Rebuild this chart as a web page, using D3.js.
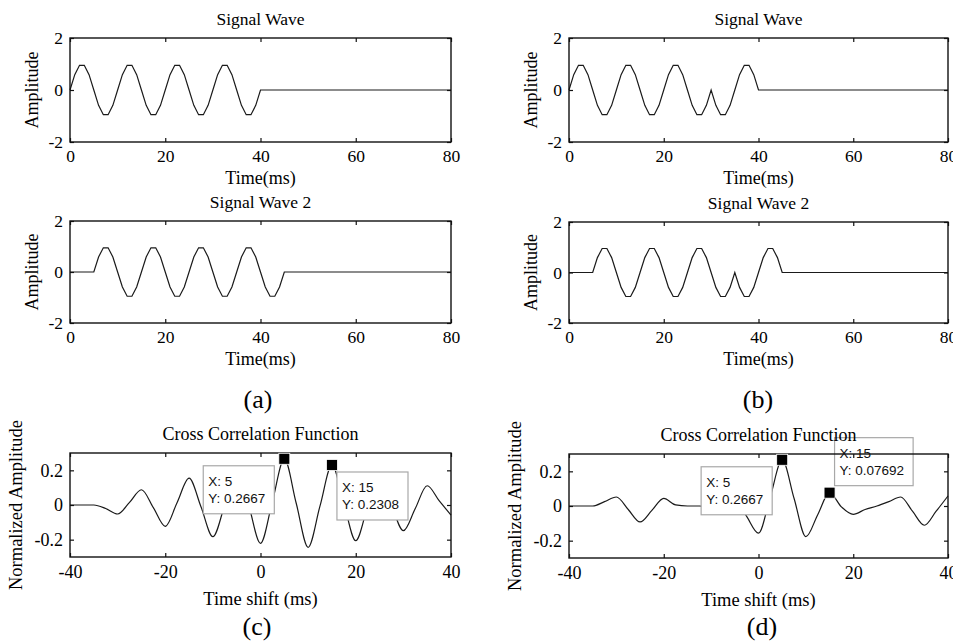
<!DOCTYPE html>
<meta charset="utf-8">
<style>

body {
  margin: 0;
  background: #fff;
}

svg {
  display: block;
}

.serif {
  font-family: "Liberation Serif", "Times New Roman", serif;
}

.tip text {
  font-family: "Liberation Sans", Arial, sans-serif;
  font-size: 13.5px;
}

</style>
<body>
<script src="https://cdn.jsdelivr.net/npm/d3@7"></script>
<script>

// sample times (ms) of the signal bursts, the rest of each trace is flat zero
var sampleMs = [0, 1, 2, 3, 4, 5, 6, 7, 8, 9, 10, 11, 12, 13, 14, 15, 16, 17, 18, 19,
    20, 21, 22, 23, 24, 25, 26, 27, 28, 29, 30, 31, 32, 33, 34, 35, 36, 37, 38, 39,
    40, 41, 42, 43, 44, 45];
var traceEndMs = 80;

// (a) signal wave / signal wave 2
var sigA1 = [0, 0.59, 0.95, 0.95, 0.59, 0, -0.59, -0.95, -0.95, -0.59,
    0, 0.59, 0.95, 0.95, 0.59, 0, -0.59, -0.95, -0.95, -0.59,
    0, 0.59, 0.95, 0.95, 0.59, 0, -0.59, -0.95, -0.95, -0.59,
    0, 0.59, 0.95, 0.95, 0.59, 0, -0.59, -0.95, -0.95, -0.59,
    0, 0, 0, 0, 0, 0];
var sigA2 = [0, 0, 0, 0, 0,
    0, 0.59, 0.95, 0.95, 0.59, 0, -0.59, -0.95, -0.95, -0.59,
    0, 0.59, 0.95, 0.95, 0.59, 0, -0.59, -0.95, -0.95, -0.59,
    0, 0.59, 0.95, 0.95, 0.59, 0, -0.59, -0.95, -0.95, -0.59,
    0, 0.59, 0.95, 0.95, 0.59, 0, -0.59, -0.95, -0.95, -0.59,
    0];

// (b) same bursts with the last cycle phase-flipped
var sigB1 = [0, 0.59, 0.95, 0.95, 0.59, 0, -0.59, -0.95, -0.95, -0.59,
    0, 0.59, 0.95, 0.95, 0.59, 0, -0.59, -0.95, -0.95, -0.59,
    0, 0.59, 0.95, 0.95, 0.59, 0, -0.59, -0.95, -0.95, -0.59,
    0, -0.59, -0.95, -0.95, -0.59, 0, 0.59, 0.95, 0.95, 0.59,
    0, 0, 0, 0, 0, 0];
var sigB2 = [0, 0, 0, 0, 0,
    0, 0.59, 0.95, 0.95, 0.59, 0, -0.59, -0.95, -0.95, -0.59,
    0, 0.59, 0.95, 0.95, 0.59, 0, -0.59, -0.95, -0.95, -0.59,
    0, 0.59, 0.95, 0.95, 0.59, 0, -0.59, -0.95, -0.95, -0.59,
    0, -0.59, -0.95, -0.95, -0.59, 0, 0.59, 0.95, 0.95, 0.59,
    0];

// cross correlation, lag in ms
var lagMs = [-40, -37.5, -35, -32.5, -30, -27.5, -25, -22.5, -20, -17.5, -15, -12.5,
    -10, -7.5, -5, -2.5, 0, 2.5, 5, 7.5, 10, 12.5, 15, 17.5, 20, 22.5, 25, 27.5,
    30, 32.5, 35, 37.5, 40];
var corrC = [0, 0, 0, -0.02, -0.052, 0.015, 0.088, -0.015, -0.123, 0.015, 0.155, -0.01,
    -0.183, 0, 0.19, 0, -0.221, 0.02, 0.2667, 0.01, -0.244, -0.005, 0.2308, 0.01,
    -0.206, -0.01, 0.17, 0, -0.148, -0.02, 0.111, 0.025, -0.058];
var corrD = [0, 0, 0, 0.025, 0.052, -0.02, -0.092, -0.025, 0.044, 0.006, 0, 0,
    -0.005, 0.01, 0.04, -0.06, -0.157, 0.055, 0.2667, 0.045, -0.177, -0.05, 0.07692, -0.005,
    -0.048, -0.02, 0, 0.025, 0.052, -0.03, -0.111, -0.03, 0.058];

// data tips
var tipXc = [5, 15], tipYc = [0.2667, 0.2308];
var tipXd = [5, 15], tipYd = [0.2667, 0.07692];

var signalXTicks = [0, 20, 40, 60, 80],
    signalYTicks = [-2, 0, 2],
    corrXTicks = [-40, -20, 0, 20, 40],
    corrYTicks = [-0.2, 0, 0.2];

var width = 953, height = 642;

var svg = d3.select("body").append("svg")
    .attr("width", width)
    .attr("height", height);

function signalPoints(values) {
  var pts = sampleMs.map(function(t, i) { return [t, values[i]]; });
  pts.push([traceEndMs, 0]);
  return pts;
}

function corrPoints(values) {
  return lagMs.map(function(t, i) { return [t, values[i]]; });
}

function drawPanel(p) {
  var g = svg.append("g")
      .attr("transform", "translate(" + p.left + "," + p.top + ")");

  var x = d3.scaleLinear().domain(p.xDomain).range([0, p.w]);
  var y = d3.scaleLinear().domain(p.yDomain).range([p.h, 0]);

  var line = d3.line()
      .x(function(d) { return x(d[0]); })
      .y(function(d) { return y(d[1]); })
      .curve(p.curve);

  g.append("path")
      .datum(p.points)
      .attr("d", line)
      .attr("fill", "none")
      .attr("stroke", "#1a1a1a")
      .attr("stroke-width", 1.2);

  // data tip boxes go under the frame, like in the figure
  var markers = [];
  (p.tipX || []).forEach(function(tx, i) {
    var mx = x(tx), my = y(p.tipY[i]), side = p.tipSide[i];
    var tg = g.append("g").attr("class", "tip");
    var box = tg.append("rect");
    var t1 = tg.append("text").text("X: " + tx);
    var t2 = tg.append("text").text("Y: " + p.tipY[i]);
    var tw = Math.max(t1.node().getComputedTextLength(), t2.node().getComputedTextLength());
    var bw = tw + 14, bh = 48;
    var bx = side.indexOf("left") >= 0 ? mx - 10 - bw : mx + 5;
    var by = side.indexOf("below") >= 0 ? my + 7 : my - 55;
    box.attr("x", bx).attr("y", by)
        .attr("width", bw).attr("height", bh)
        .attr("fill", "#fff")
        .attr("stroke", "#a8a8a8")
        .attr("stroke-width", 1.2);
    t1.attr("x", bx + 5).attr("y", by + 20).attr("fill", "#111");
    t2.attr("x", bx + 5).attr("y", by + 37).attr("fill", "#111");
    markers.push([mx, my]);
  });

  var fmt = function(d) { return String(d); };

  var xb = g.append("g")
      .attr("transform", "translate(0," + p.h + ")")
      .call(d3.axisBottom(x).tickValues(p.xTicks).tickSizeInner(-4).tickSizeOuter(0)
          .tickPadding(p.xPad).tickFormat(fmt));
  g.append("g")
      .call(d3.axisTop(x).tickValues(p.xTicks).tickSizeInner(-4).tickSizeOuter(0).tickFormat(""));
  var yl = g.append("g")
      .call(d3.axisLeft(y).tickValues(p.yTicks).tickSizeInner(-4).tickSizeOuter(0)
          .tickPadding(7).tickFormat(fmt));
  g.append("g")
      .attr("transform", "translate(" + p.w + ",0)")
      .call(d3.axisRight(y).tickValues(p.yTicks).tickSizeInner(-4).tickSizeOuter(0).tickFormat(""));

  g.selectAll(".domain").remove();
  g.selectAll(".tick line").attr("stroke", "#111").attr("stroke-width", 1.2);

  [xb, yl].forEach(function(a) {
    a.attr("font-family", null).attr("font-size", null)
        .attr("class", "serif")
        .selectAll("text")
        .style("font-size", p.tickFont + "px")
        .attr("fill", "#000");
  });

  g.append("rect")
      .attr("width", p.w)
      .attr("height", p.h)
      .attr("fill", "none")
      .attr("stroke", "#111")
      .attr("stroke-width", 1.4);

  g.append("text")
      .attr("class", "serif")
      .attr("x", p.w / 2)
      .attr("y", -13)
      .attr("text-anchor", "middle")
      .style("font-size", p.titleFont + "px")
      .text(p.title);

  g.append("text")
      .attr("class", "serif")
      .attr("x", p.w / 2)
      .attr("y", p.h + p.xlabOff)
      .attr("text-anchor", "middle")
      .style("font-size", p.labelFont + "px")
      .text(p.xlabel);

  g.append("text")
      .attr("class", "serif")
      .attr("transform", "translate(" + (-p.ylabOff) + "," + (p.h / 2) + ") rotate(-90)")
      .attr("text-anchor", "middle")
      .style("font-size", p.labelFont + "px")
      .text(p.ylabel);

  g.selectAll(".marker")
      .data(markers)
      .enter()
      .append("rect")
      .attr("class", "marker")
      .attr("x", function(d) { return d[0] - 5.5; })
      .attr("y", function(d) { return d[1] - 5.5; })
      .attr("width", 11)
      .attr("height", 11)
      .attr("fill", "#000")
      .attr("stroke", "#fff")
      .attr("stroke-width", 0.8);
}

var signalPanel = {
  w: 381, h: 104, xDomain: [0, 80], yDomain: [-2, 2],
  xTicks: signalXTicks, yTicks: signalYTicks, xPad: 8,
  curve: d3.curveLinear, tickFont: 17.5, titleFont: 17.5, labelFont: 18,
  xlabel: "Time(ms)", ylabel: "Amplitude", xlabOff: 42, ylabOff: 32
};

var corrPanel = {
  w: 381, h: 104, xDomain: [-40, 40], yDomain: [-0.3, 0.3],
  xTicks: corrXTicks, yTicks: corrYTicks, xPad: 8,
  curve: d3.curveMonotoneX, tickFont: 18, titleFont: 18, labelFont: 18.5,
  title: "Cross Correlation Function",
  xlabel: "Time shift (ms)", ylabel: "Normalized Amplitude", xlabOff: 48, ylabOff: 48
};

var panels = [
  Object.assign({}, signalPanel, {left: 70, top: 38, title: "Signal Wave", points: signalPoints(sigA1)}),
  Object.assign({}, signalPanel, {left: 569, top: 38, w: 379, title: "Signal Wave", points: signalPoints(sigB1)}),
  Object.assign({}, signalPanel, {left: 70, top: 221, h: 102, title: "Signal Wave 2", points: signalPoints(sigA2)}),
  Object.assign({}, signalPanel, {left: 569, top: 222, w: 379, h: 101, title: "Signal Wave 2", points: signalPoints(sigB2)}),
  Object.assign({}, corrPanel, {left: 70, top: 453, points: corrPoints(corrC),
      tipX: tipXc, tipY: tipYc, tipSide: ["left-below", "right-below"]}),
  Object.assign({}, corrPanel, {left: 569, top: 454, w: 379, points: corrPoints(corrD),
      tipX: tipXd, tipY: tipYd, tipSide: ["left-below", "right-above"]})
];

panels.forEach(drawPanel);

// sub-figure captions
var captions = ["(a)", "(b)", "(c)", "(d)"];
var captionPos = [[258, 408], [758, 408], [257, 635], [762, 635]];

svg.selectAll(".caption")
    .data(captions)
    .enter()
    .append("text")
    .attr("class", "serif caption")
    .attr("x", function(d, i) { return captionPos[i][0]; })
    .attr("y", function(d, i) { return captionPos[i][1]; })
    .attr("text-anchor", "middle")
    .style("font-size", "26px")
    .text(function(d) { return d; });

</script>
